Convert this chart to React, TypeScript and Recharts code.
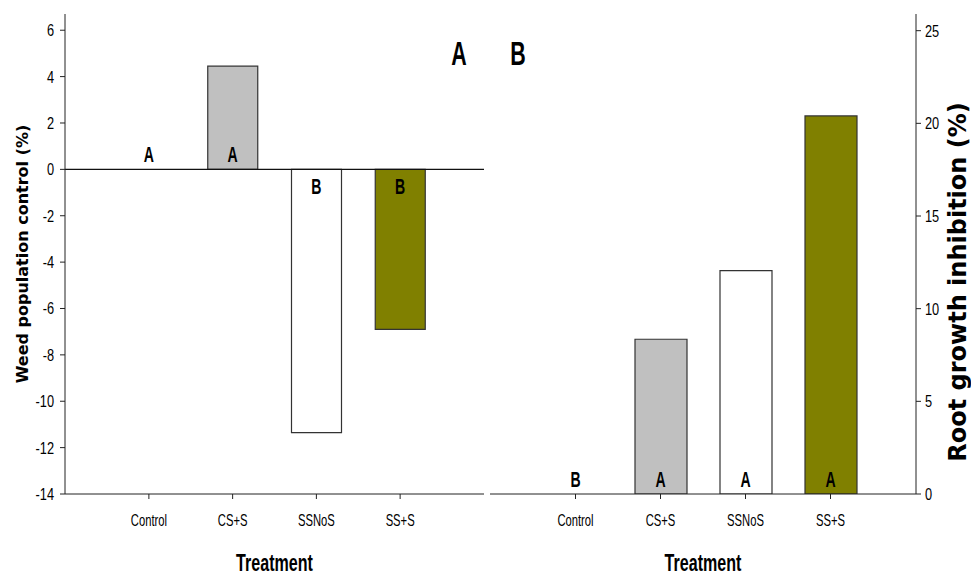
import { BarChart, Bar, XAxis, YAxis, ReferenceLine, ReferenceDot, Cell } from "recharts";

const treatments = ["Control", "CS+S", "SSNoS", "SS+S"];
const weedControl = [0, 4.45, -11.35, -6.9];
const weedLetters = ["A", "A", "B", "B"];
const rootInhibition = [0, 8.35, 12.05, 20.4];
const rootLetters = ["B", "A", "A", "A"];
const barColors = ["#ffffff", "#c0c0c0", "#ffffff", "#808000"];
const weedTicks = [-14, -12, -10, -8, -6, -4, -2, 0, 2, 4, 6];
const rootTicks = [0, 5, 10, 15, 20, 25];

const weedData = treatments.map((t, i) => ({ treatment: t, value: weedControl[i] }));
const rootData = treatments.map((t, i) => ({ treatment: t, value: rootInhibition[i] }));

const NARROW = "'Liberation Sans Narrow', 'Arial Narrow', 'Liberation Sans', sans-serif";
const WIDE = "'DejaVu Sans', Verdana, sans-serif";

function Narrow({ x, y, size, sx = 1, bold = false, anchor = "middle", children }: any) {
  return (
    <text
      transform={`translate(${x},${y}) scale(${sx},1)`}
      fontFamily={NARROW}
      fontSize={size}
      fontWeight={bold ? "bold" : "normal"}
      textAnchor={anchor}
      fill="#000"
    >
      {children}
    </text>
  );
}

// significance letter: just above the zero line, or just below it for negative bars
const letterAt = (letter: string, below: boolean) => (props: any) => {
  const vb = props.viewBox ?? {};
  const cx = vb.width != null ? vb.x + vb.width / 2 : props.cx;
  const cy = vb.height != null ? vb.y + vb.height / 2 : props.cy;
  return (
    <Narrow x={cx} y={below ? cy + 25 : cy - 7} size={22} sx={0.64} bold>
      {letter}
    </Narrow>
  );
};

const xTick = (p: any) => (
  <Narrow x={p.x} y={p.y + 21} size={17} sx={0.66}>{p.payload.value}</Narrow>
);

const treatmentLabel = (props: any) => {
  const vb = props.viewBox;
  return <Narrow x={vb.x + vb.width / 2} y={571} size={24} sx={0.67} bold>Treatment</Narrow>;
};

const rootTitle = (props: any) => {
  const vb = props.viewBox;
  const x = vb.x + vb.width - 14;
  const y = vb.y + vb.height / 2 + 28;
  return (
    <text
      transform={`rotate(-90, ${x}, ${y})`}
      x={x}
      y={y}
      dy="0.36em"
      textAnchor="middle"
      fontFamily={WIDE}
      fontWeight="bold"
      fontSize={24}
      fill="#000"
    >
      Root growth inhibition (%)
    </text>
  );
};

function App() {
  return (
    <div style={{ position: "absolute", left: 0, top: 0, width: 971, height: 575, background: "#fff" }}>
      <div style={{ position: "absolute", left: 0, top: 0 }}>
        <BarChart width={487} height={575} data={weedData} margin={{ top: 14, right: 3, bottom: 0, left: 0 }}>
          <XAxis
            dataKey="treatment"
            height={81}
            padding={{ left: 42, right: 42 }}
            stroke="#222"
            tickSize={5}
            tickMargin={6}
            tick={xTick}
            label={treatmentLabel}
          />
          <XAxis xAxisId="top" dataKey="treatment" orientation="top" height={0} tick={false} tickLine={false} stroke="#222" />
          <YAxis
            domain={[-14, 6.7]}
            ticks={weedTicks}
            width={65}
            stroke="#222"
            tickSize={5}
            tickMargin={6}
            allowDataOverflow
            tick={(p: any) => (
              <Narrow x={p.x} y={p.y + 6} size={16} sx={0.8} anchor="end">{p.payload.value}</Narrow>
            )}
            label={{
              value: "Weed population control (%)",
              angle: -90,
              position: "insideLeft",
              offset: 22,
              style: { textAnchor: "middle", fontFamily: WIDE, fontWeight: "bold", fontSize: 16, fill: "#000" },
            }}
          />
          <YAxis yAxisId="frame" orientation="right" width={0} type="number" domain={[0, 1]} tick={false} tickLine={false} stroke="#999" />
          <ReferenceLine y={0} stroke="#111" strokeWidth={1.2} />
          <Bar dataKey="value" barSize={50} stroke="#333" strokeWidth={1.2} isAnimationActive={false}>
            {weedData.map((_, i) => (
              <Cell key={i} fill={barColors[i]} />
            ))}
          </Bar>
          {treatments.map((t, i) => (
            <ReferenceDot
              key={t}
              x={t}
              y={0}
              r={1}
              fill="none"
              stroke="none"
              label={letterAt(weedLetters[i], weedControl[i] < 0)}
            />
          ))}
        </BarChart>
      </div>
      <div style={{ position: "absolute", left: 487, top: 0 }}>
        <BarChart width={484} height={575} data={rootData} margin={{ top: 14, right: 0, bottom: 0, left: 3 }}>
          <XAxis
            dataKey="treatment"
            height={81}
            padding={{ left: 43, right: 43 }}
            stroke="#222"
            tickSize={5}
            tickMargin={6}
            tick={xTick}
            label={treatmentLabel}
          />
          <XAxis xAxisId="top" dataKey="treatment" orientation="top" height={0} tick={false} tickLine={false} stroke="#222" />
          <YAxis yAxisId="frame" orientation="left" width={0} type="number" domain={[0, 1]} tick={false} tickLine={false} stroke="#222" />
          <YAxis
            yAxisId="r"
            orientation="right"
            domain={[0, 25.9]}
            ticks={rootTicks}
            width={55}
            stroke="#222"
            tickSize={5}
            tickMargin={4}
            allowDataOverflow
            tick={(p: any) => (
              <Narrow x={p.x} y={p.y + 6} size={16} sx={0.8} anchor="start">{p.payload.value}</Narrow>
            )}
            label={rootTitle}
          />
          <Bar yAxisId="r" dataKey="value" barSize={52} stroke="#333" strokeWidth={1.2} isAnimationActive={false}>
            {rootData.map((_, i) => (
              <Cell key={i} fill={barColors[i]} />
            ))}
          </Bar>
          {treatments.map((t, i) => (
            <ReferenceDot
              key={t}
              yAxisId="r"
              x={t}
              y={0}
              r={1}
              fill="none"
              stroke="none"
              label={letterAt(rootLetters[i], rootInhibition[i] < 0)}
            />
          ))}
        </BarChart>
      </div>
      <svg style={{ position: "absolute", left: 0, top: 0, pointerEvents: "none" }} width={971} height={575}>
        <Narrow x={459} y={65} size={34} sx={0.63} bold>A</Narrow>
        <Narrow x={518} y={65} size={34} sx={0.63} bold>B</Narrow>
      </svg>
    </div>
  );
}

export default App;
